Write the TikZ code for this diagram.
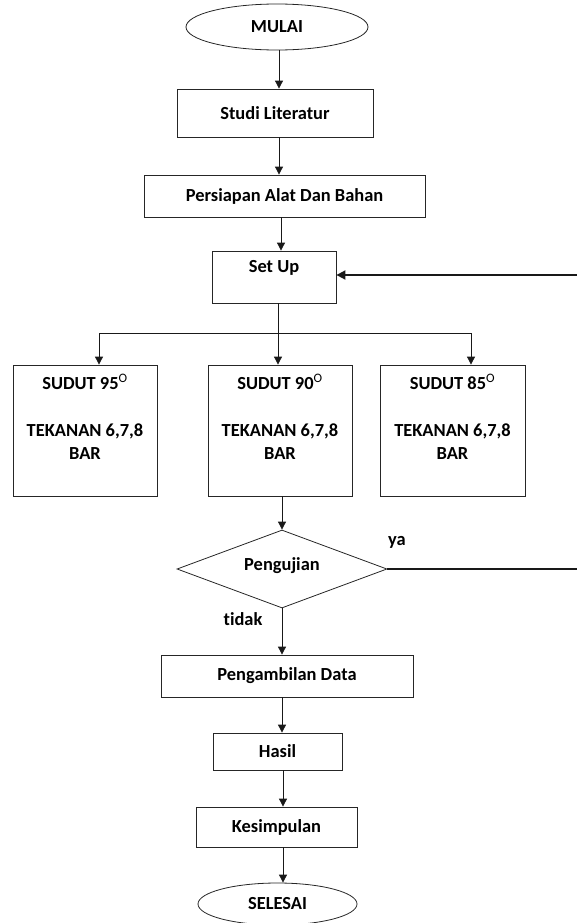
\documentclass[tikz,border=0pt]{standalone}
\usepackage{fontspec}
\setmainfont{Carlito}[Ligatures=NoCommon]
\usetikzlibrary{shapes.geometric,arrows.meta}
\begin{document}
\begin{tikzpicture}[x=1bp,y=-1bp,
  every node/.style={font=\fontsize{18.5}{23.5}\selectfont\bfseries, text=black},
  box/.style={draw=black!85, line width=0.8bp, inner sep=0pt},
  oval/.style={ellipse, draw=black!85, line width=0.8bp, inner sep=0pt},
  decision/.style={diamond, draw=black!85, line width=0.8bp, inner sep=0pt},
  lbl/.style={inner sep=0pt},
  arr/.style={draw=black!90, line width=0.8bp, -{Triangle[length=8bp,width=8bp]}},
  plain/.style={draw=black!90, line width=0.8bp},
  fb/.style={draw=black!90, line width=1.8bp, -{Triangle[length=9bp,width=9bp]}}
]
\useasboundingbox (0,0) rectangle (577,923);

% nodes
\node[oval, minimum width=182bp, minimum height=46bp] (mulai) at (277,27) {MULAI};
\node[box, minimum width=196bp, minimum height=48bp] (studi) at (275,113) {Studi Literatur};
\node[box, minimum width=281bp, minimum height=42bp] (persiapan) at (284.5,196) {Persiapan Alat Dan Bahan};
\node[box, minimum width=124bp, minimum height=52bp] (setup) at (274,277) {};
\node[lbl] (tsetup) at ([yshift=9bp]setup.center) {Set Up};

\node[box, minimum width=144bp, minimum height=131bp] (s95) at (85,430.5) {};
\node[box, minimum width=144bp, minimum height=131bp] (s90) at (280,430.5) {};
\node[box, minimum width=145bp, minimum height=131bp] (s85) at (452.5,430.5) {};
\node[lbl, align=center] (t95) at ([yshift=13.5bp]s95.center) {SUDUT 95\textsuperscript{\mdseries O}\\\mbox{}\\TEKANAN 6,7,8\\BAR};
\node[lbl, align=center] (t90) at ([yshift=13.5bp]s90.center) {SUDUT 90\textsuperscript{\mdseries O}\\\mbox{}\\TEKANAN 6,7,8\\BAR};
\node[lbl, align=center] (t85) at ([yshift=13.5bp]s85.center) {SUDUT 85\textsuperscript{\mdseries O}\\\mbox{}\\TEKANAN 6,7,8\\BAR};

\node[decision, minimum width=210bp, minimum height=78bp] (dec) at (282,569) {};
\node[lbl] (tdec) at ([yshift=3bp]dec.center) {Pengujian};
\node[lbl] (ya) at (397,542) {ya};
\node[lbl] (tidak) at (243,619) {tidak};

\node[box, minimum width=252bp, minimum height=42bp] (ambil) at (287,676) {Pengambilan Data};
\node[box, minimum width=129bp, minimum height=37bp] (hasil) at (277.5,751.5) {Hasil};
\node[box, minimum width=161bp, minimum height=40bp] (simpul) at (276.5,827) {Kesimpulan};
\node[oval, minimum width=159bp, minimum height=42bp] (selesai) at (277.5,904) {SELESAI};

% connectors
\draw[arr] ([xshift=2bp]mulai.south) -- ([xshift=2bp]mulai.south |- studi.north);
\draw[arr] ([xshift=4bp]studi.south) -- ([xshift=4bp]studi.south |- persiapan.north);
\draw[arr] ([xshift=-3.5bp]persiapan.south) -- ([xshift=-3.5bp]persiapan.south |- setup.north);

\coordinate (split) at (278,333);
\draw[plain] (split |- setup.south) -- (split);
\draw[arr] (split) -| ([xshift=14bp]s95.north);
\draw[arr] (split) -| ([xshift=18.5bp]s85.north);
\draw[arr] (split) -- (split |- s90.north);

\draw[arr] (dec.north |- s90.south) -- (dec.north);
\draw[arr] (dec.south) -- (dec.south |- ambil.north);
\draw[arr] (dec.south |- ambil.south) -- (dec.south |- hasil.north);
\draw[arr] ([xshift=1bp]dec.south |- hasil.south) -- ([xshift=1bp]dec.south |- simpul.north);
\draw[arr] ([xshift=1bp]dec.south |- simpul.south) -- ([xshift=1bp]dec.south |- selesai.north);

\coordinate (fbR) at (600,569);
\draw[fb] (dec.east) -- (fbR) |- ([yshift=2bp]setup.east);
\end{tikzpicture}
\end{document}
